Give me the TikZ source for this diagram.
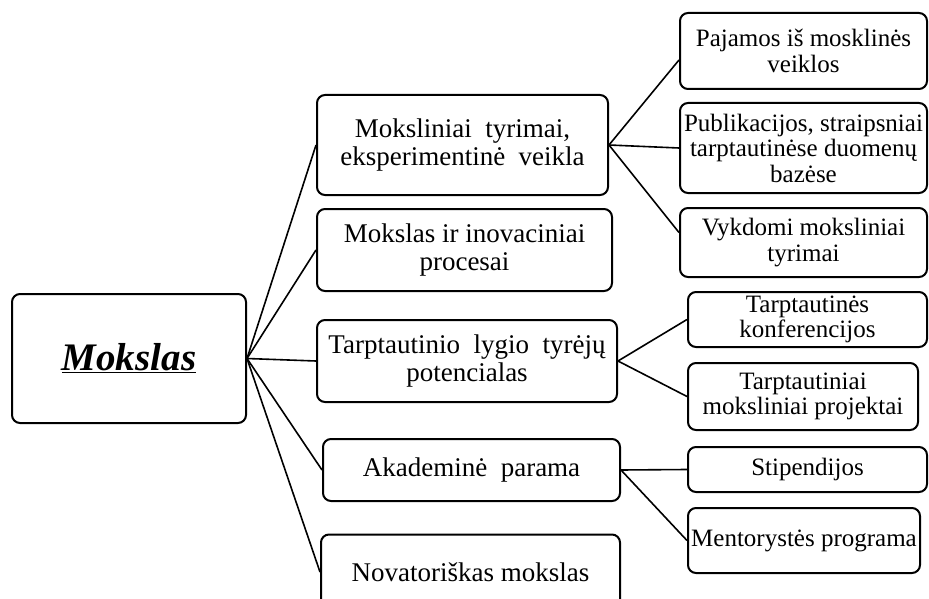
\documentclass[tikz,border=0pt]{standalone}
\usepackage{fontspec}
\setmainfont{Liberation Serif}
\begin{document}
\begin{tikzpicture}[x=1pt,y=-1pt,
  box/.style={draw, line width=2pt, rounded corners=8pt, align=center, inner sep=0pt, anchor=center},
  midbox/.style={box, font=\fontsize{27}{28.5}\selectfont},
  leafbox/.style={box, font=\fontsize{25}{25.5}\selectfont},
  conn/.style={line width=1.6pt}]
\useasboundingbox (0,0) rectangle (929,599);
\fill[white] (0,0) rectangle (929,599);
% root
\node[box, minimum width=234pt, minimum height=129pt, font=\fontsize{39}{41}\selectfont\bfseries\itshape] (root) at (129,358.5) {\underline{Mokslas}};
% middle
\node[midbox, minimum width=291pt, minimum height=100pt] (m1) at (462.5,145) {Moksliniai\ \ tyrimai,\\eksperimentinė\ \ veikla};
\node[midbox, minimum width=295pt, minimum height=82pt] (m2) at (464.5,250) {Mokslas ir inovaciniai\\procesai};
\node[midbox, minimum width=300pt, minimum height=82pt] (m3) at (467,361) {Tarptautinio\ \ lygio\ \ tyrėjų\\potencialas};
\node[midbox, minimum width=297pt, minimum height=62pt] (m4) at (471.5,470) {Akademinė\ \ parama};
\node[midbox, minimum width=299pt, minimum height=75pt] (m5) at (470.5,572) {Novatoriškas mokslas};
% leaves
\node[leafbox, minimum width=247pt, minimum height=76pt] (r1) at (803.5,51) {Pajamos iš mosklinės\\veiklos};
\node[leafbox, minimum width=247pt, minimum height=90pt] (r2) at (803.5,148) {Publikacijos, straipsniai\\tarptautinėse duomenų\\bazėse};
\node[leafbox, minimum width=247pt, minimum height=69pt] (r3) at (803.5,242.5) {Vykdomi moksliniai\\tyrimai};
\node[leafbox, minimum width=239pt, minimum height=55pt] (r4) at (807.5,319.5) {Tarptautinės\\konferencijos};
\node[leafbox, minimum width=230pt, minimum height=67pt] (r5) at (803,396.5) {Tarptautiniai\\moksliniai projektai};
\node[leafbox, minimum width=239pt, minimum height=45pt] (r6) at (807.5,469.5) {Stipendijos};
\node[leafbox, minimum width=232pt, minimum height=65pt] (r7) at (804,540.5) {Mentorystės programa};
% connectors
\foreach \m in {m1,m2,m3,m4,m5} \draw[conn] (root.east) -- (\m.west);
\draw[conn] (m1.east) -- ([yshift=-9pt]r1.west);
\draw[conn] (m1.east) -- (r2.west);
\draw[conn] (m1.east) -- ([yshift=10pt]r3.west);
\foreach \r in {r4,r5} \draw[conn] (m3.east) -- (\r.west);
\foreach \r in {r6,r7} \draw[conn] (m4.east) -- (\r.west);
\end{tikzpicture}
\end{document}
